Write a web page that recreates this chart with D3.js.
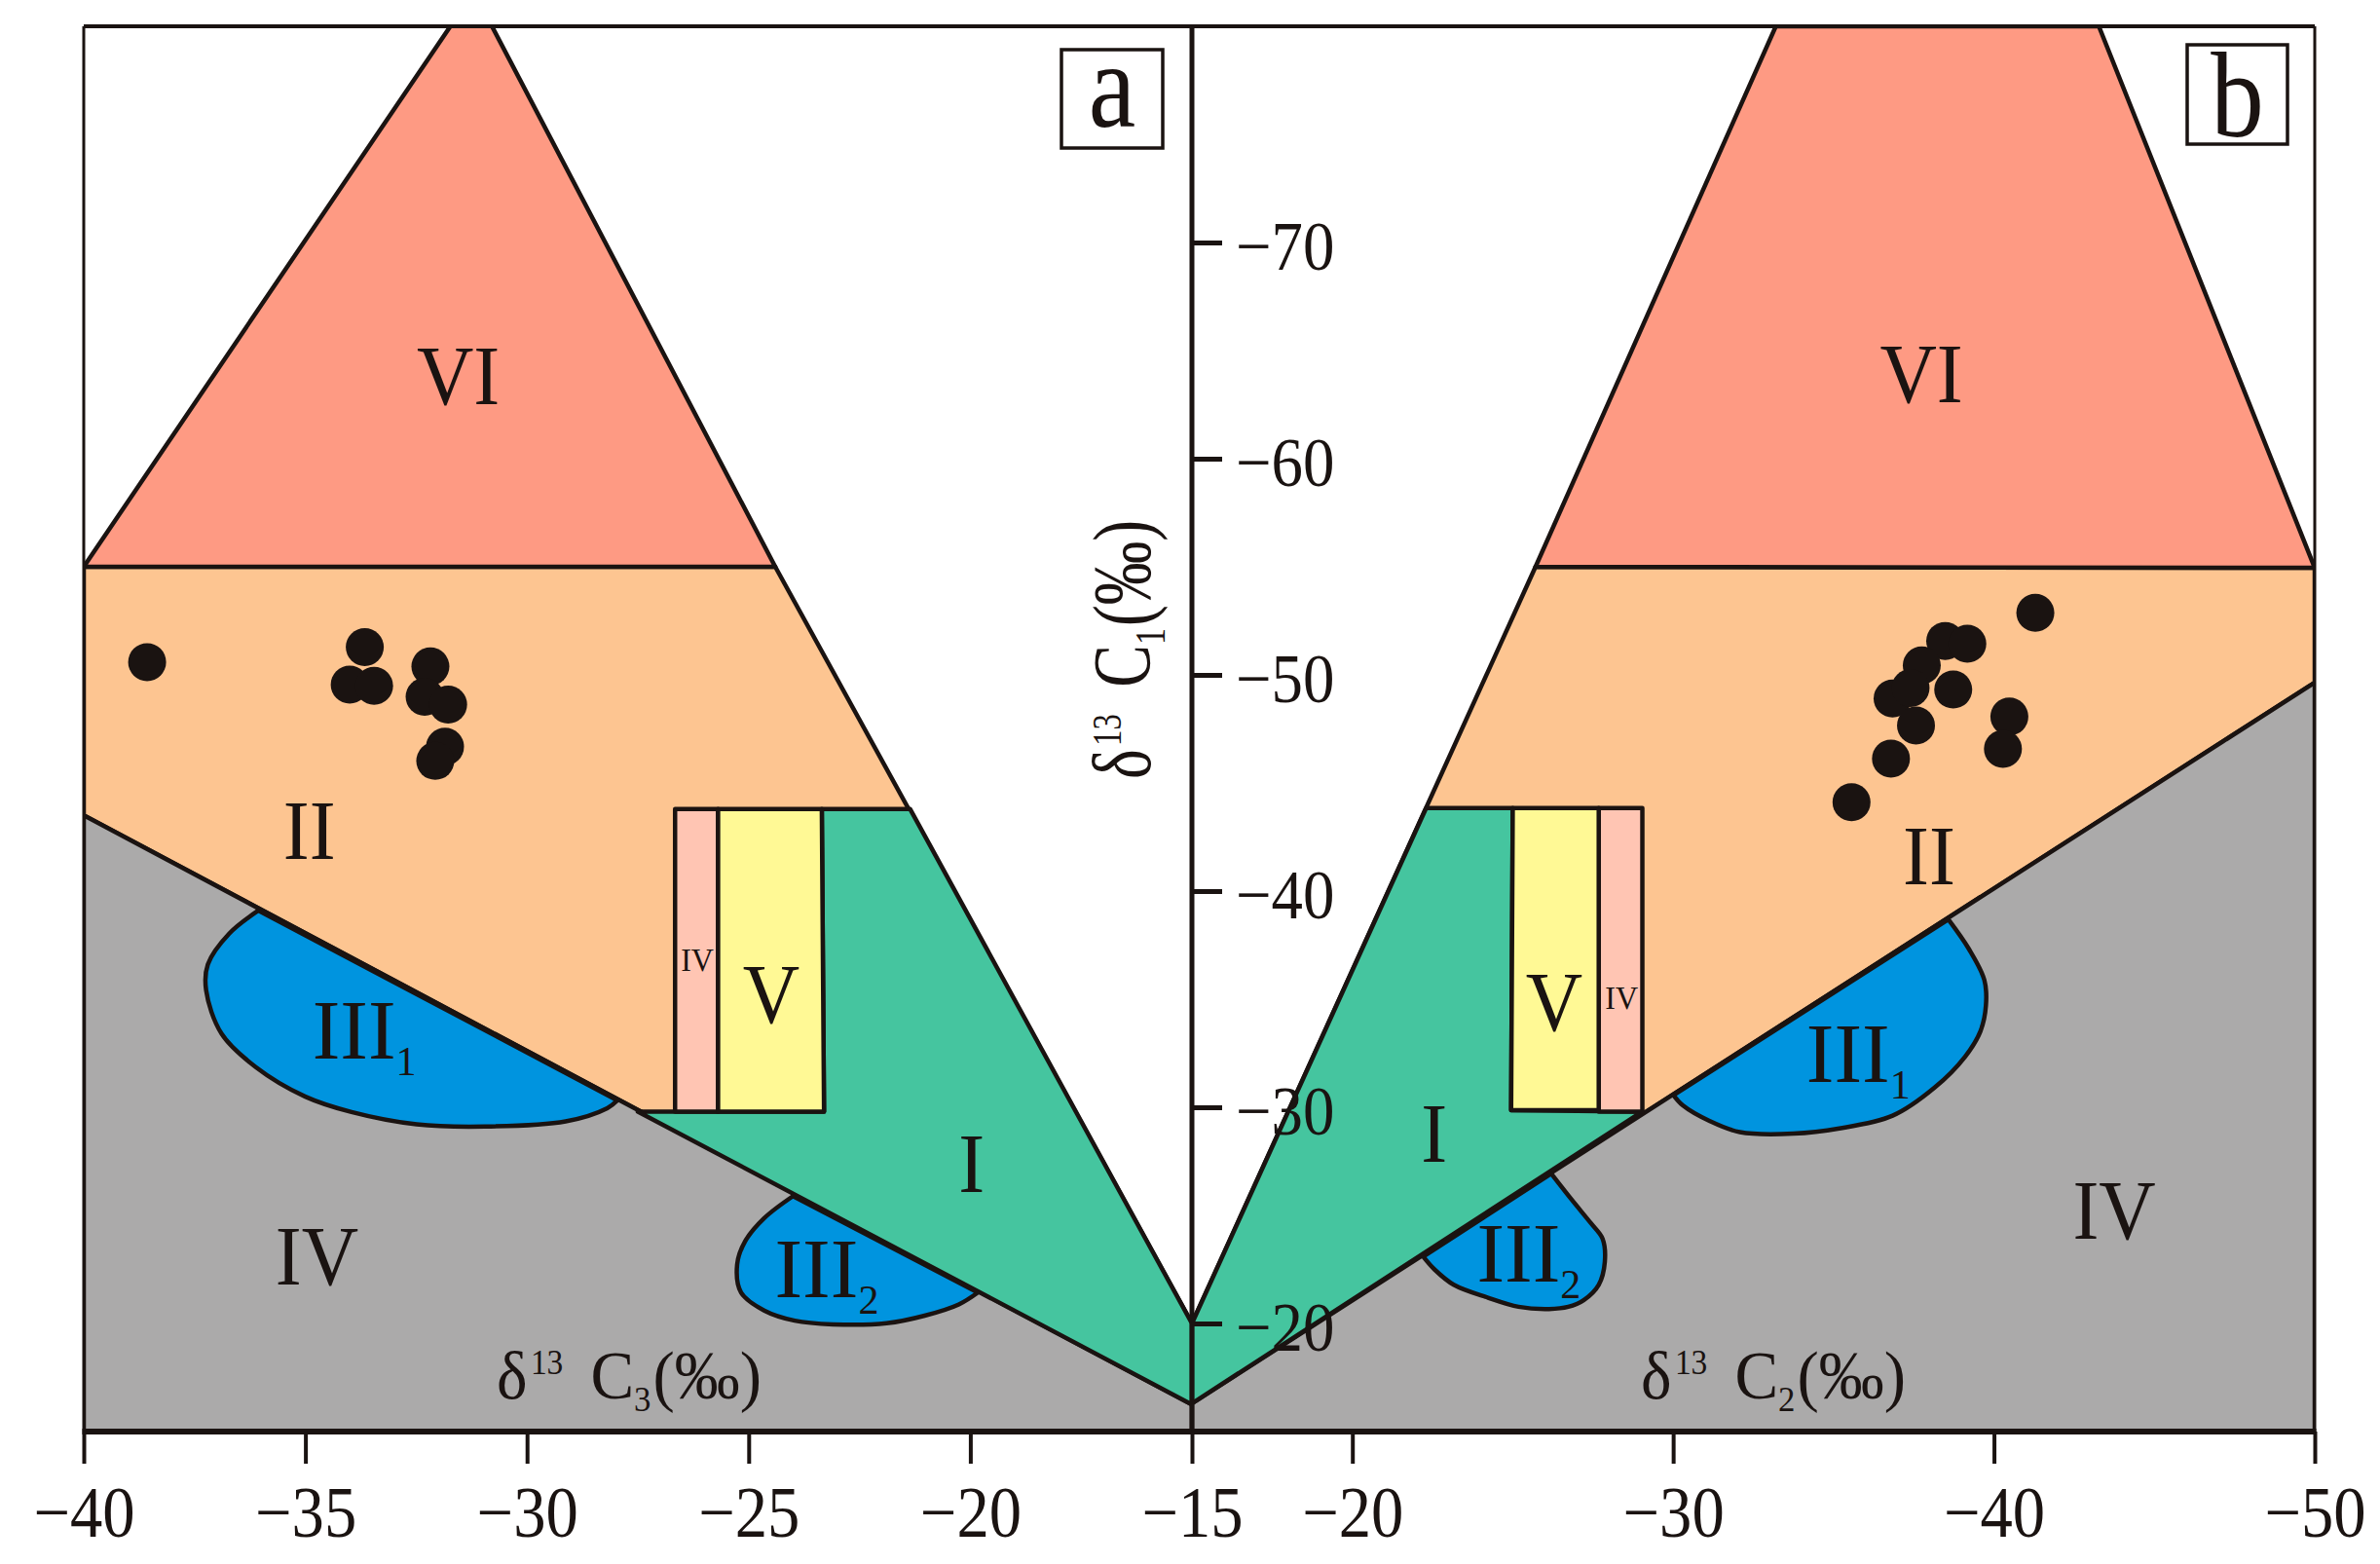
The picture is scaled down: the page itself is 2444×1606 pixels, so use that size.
<!doctype html>
<html>
<head>
<meta charset="utf-8">
<style>
  body { margin: 0; background-color: #fff; }
  text { font-family: "Liberation Serif", "Times New Roman", serif; fill: #1a1311; }
</style>
</head>
<body>
<script src="https://cdn.jsdelivr.net/npm/d3@7"></script>
<script>
  var width = 2444,
      height = 1606;

  // tick values
  var xTicksA = [-40, -35, -30, -25, -20, -15];
  var xTicksB = [-20, -30, -40, -50];
  var yTicks = [-70, -60, -50, -40, -30, -20];

  // panel a : d13C3 (x) vs d13C1 (y)
  var viA = [[-40, -55], [-24.4, -55], [-31.2, -81.6]];
  var iiA = [[-40, -55], [-24.4, -55], [-15, -20], [-15, -16.25], [-40, -43.5]];
  var ivA = [[-40, -43.5], [-15, -16.25], [-15, -15], [-40, -15]];
  var iA = [[-27.5, -29.8], [-23.3, -29.8], [-23.35, -43.8], [-21.36, -43.8], [-15, -20], [-15, -16.25]];
  var ivBoxA = [[-26.66, -43.8], [-25.69, -43.8], [-25.69, -29.8], [-26.66, -29.8]];
  var vBoxA = [[-25.69, -43.8], [-23.35, -43.8], [-23.3, -29.8], [-25.69, -29.8]];
  var iii1A = [[-36.06, -39.1], [-36.72, -38.03], [-37.2, -36.61], [-37.24, -35.42], [-36.89, -33.4],
               [-36.12, -31.86], [-35.0, -30.49], [-33.96, -29.78], [-32.49, -29.21], [-30.95, -29.11],
               [-29.13, -29.35], [-28.19, -29.96], [-27.96, -30.32]];
  var iii2A = [[-24.0, -25.89], [-24.65, -24.87], [-25.08, -23.8], [-25.26, -22.73], [-25.17, -21.43],
               [-24.65, -20.6], [-23.96, -20.13], [-23.1, -19.96], [-21.89, -20.01], [-21.03, -20.36],
               [-20.26, -20.88], [-19.83, -21.43]];
  var samplesA = [[-38.57, -50.59], [-33.66, -51.28], [-34.0, -49.55], [-33.45, -49.49], [-32.18, -50.39],
                  [-32.31, -48.99], [-31.78, -48.63], [-31.85, -46.68], [-32.07, -46.02]];
  var namesA = [
    {t: "VI", x: -31.55, y: -63.8}, {t: "II", x: -34.91, y: -42.76}, {t: "IV", x: -34.74, y: -23.08},
    {t: "III", sub: "1", x: -33.67, y: -33.51}, {t: "V", x: -24.49, y: -35.18},
    {t: "IV", small: true, x: -26.16, y: -36.82}, {t: "I", x: -19.97, y: -27.34},
    {t: "III", sub: "2", x: -23.24, y: -22.48}
  ];

  // panel b : d13C2 (x) vs d13C1 (y)
  var viB = [[-25.71, -55], [-50, -54.95], [-43.27, -80], [-33.2, -80]];
  var iiB = [[-25.71, -55], [-50, -54.95], [-50, -49.65], [-15, -16.3], [-15, -20]];
  var ivB = [[-15, -16.3], [-50, -49.65], [-50, -15], [-15, -15]];
  var iB = [[-22.3, -43.84], [-25.0, -43.84], [-24.95, -29.87], [-29.04, -29.8], [-15, -16.3], [-15, -20]];
  var vBoxB = [[-25.0, -43.84], [-27.68, -43.84], [-27.68, -29.87], [-24.95, -29.87]];
  var ivBoxB = [[-27.68, -43.84], [-29.04, -43.84], [-29.04, -29.8], [-27.68, -29.8]];
  var iii1B = [[-38.58, -38.69], [-39.22, -37.32], [-39.7, -35.89], [-39.75, -34.71], [-39.58, -33.52],
               [-39.1, -32.34], [-38.15, -30.91], [-36.84, -29.61], [-35.18, -29.02], [-33.75, -28.78],
               [-32.08, -28.85], [-31.13, -29.37], [-30.3, -30.09], [-30.01, -30.56]];
  var iii2B = [[-26.2, -26.93], [-26.85, -25.7], [-27.44, -24.63], [-27.8, -23.92], [-27.87, -22.85],
               [-27.68, -21.79], [-27.21, -21.08], [-26.73, -20.77], [-26.13, -20.67], [-25.18, -20.77],
               [-24.23, -21.19], [-23.16, -21.79], [-22.56, -22.5], [-22.21, -23.09]];
  var samplesB = [[-41.29, -52.87], [-38.48, -51.57], [-39.17, -51.44], [-37.75, -50.44], [-36.84, -48.91],
                  [-37.57, -47.66], [-38.73, -49.32], [-40.48, -48.07], [-40.28, -46.58], [-36.79, -46.13],
                  [-35.56, -44.11], [-37.4, -49.39]];
  var namesB = [
    {t: "VI", x: -37.74, y: -63.9}, {t: "II", x: -37.98, y: -41.58}, {t: "IV", x: -43.75, y: -25.2},
    {t: "III", sub: "1", x: -35.77, y: -32.43}, {t: "V", x: -26.29, y: -34.82},
    {t: "IV", small: true, x: -28.39, y: -35.05}, {t: "I", x: -22.55, y: -28.76},
    {t: "III", sub: "2", x: -25.5, y: -23.2}
  ];

  var ink = '#1a1311';
  var colours = {vi: '#fe9a83', ii: '#fdc591', iv: '#abaaaa', i: '#45c59f',
                 iii: '#0094df', v: '#fff995', ivBox: '#ffc5b3'};

  var plotL = 86, plotM = 1224, plotR = 2377, plotT = 27, plotB = 1470;

  var y = d3.scaleLinear().domain([-80, -15]).range([plotT, plotB]);
  var xA = d3.scaleLinear().domain([-40, -15]).range([plotL, plotM]);
  var xB = d3.scaleLinear().domain([-15, -50]).range([plotM, plotR]);

  var svg = d3.select('body').append('svg')
      .attr('width', width)
      .attr('height', height);

  // narrow a plain text the way the original's condensed lettering looks
  var squeeze = function (sel, k) {
    sel.each(function () {
      var w = this.getComputedTextLength();
      d3.select(this).attr('textLength', w * k).attr('lengthAdjust', 'spacingAndGlyphs');
    });
  };

  var defs = svg.append('defs');
  defs.append('clipPath').attr('id', 'clipA').append('rect')
      .attr('x', plotL).attr('y', plotT).attr('width', plotM - plotL).attr('height', plotB - plotT);
  defs.append('clipPath').attr('id', 'clipB').append('rect')
      .attr('x', plotM).attr('y', plotT).attr('width', plotR - plotM).attr('height', plotB - plotT);

  var drawPanel = function (x, clip, p) {
    var g = svg.append('g').attr('clip-path', 'url(#' + clip + ')');
    var poly = d3.line().x(function (d) { return x(d[0]); }).y(function (d) { return y(d[1]); });
    var curve = d3.line().curve(d3.curveCatmullRom.alpha(0.5))
        .x(function (d) { return x(d[0]); }).y(function (d) { return y(d[1]); });

    var fields = [
      [p.ii, colours.ii], [p.vi, colours.vi], [p.iv, colours.iv], [p.i, colours.i],
      [p.ivBox, colours.ivBox], [p.vBox, colours.v]
    ];
    fields.forEach(function (f) {
      g.append('path')
          .attr('d', poly(f[0]) + 'Z')
          .attr('fill', f[1])
          .attr('stroke', ink)
          .attr('stroke-width', 4.5)
          .attr('stroke-linejoin', 'round');
    });

    [p.iii1, p.iii2].forEach(function (blob) {
      g.append('path')
          .attr('d', curve(blob) + 'Z')
          .attr('fill', colours.iii)
          .attr('stroke', ink)
          .attr('stroke-width', 4.5)
          .attr('stroke-linejoin', 'round');
    });

    g.selectAll('circle.sample')
        .data(p.samples)
      .enter().append('circle')
        .attr('class', 'sample')
        .attr('cx', function (d) { return x(d[0]); })
        .attr('cy', function (d) { return y(d[1]); })
        .attr('r', 19.5)
        .attr('fill', ink);

    p.names.forEach(function (d) {
      var t = g.append('text')
          .attr('x', x(d.x))
          .attr('y', y(d.y))
          .attr('text-anchor', 'middle')
          .attr('font-size', d.small ? 34 : 86)
          .attr('dy', '0.33em');
      t.append('tspan').text(d.t);
      if (d.sub) t.append('tspan').attr('font-size', 42).attr('dy', 17).text(d.sub);
      if (!d.sub) squeeze(t, 0.94);
    });
  };

  drawPanel(xA, 'clipA', {ii: iiA, vi: viA, iv: ivA, i: iA, ivBox: ivBoxA, vBox: vBoxA,
                          iii1: iii1A, iii2: iii2A, samples: samplesA, names: namesA});
  drawPanel(xB, 'clipB', {ii: iiB, vi: viB, iv: ivB, i: iB, ivBox: ivBoxB, vBox: vBoxB,
                          iii1: iii1B, iii2: iii2B, samples: samplesB, names: namesB});

  // axis titles; stretched to the length they have in the original
  var title = function (transform, sub, size, len) {
    var g = svg.append('g').attr('transform', transform);
    var t = g.append('text').attr('font-size', size);
    t.append('tspan').text('δ');
    t.append('tspan').attr('font-size', size * 0.5).attr('dy', -size * 0.36).attr('dx', size * 0.05).text('13');
    t.append('tspan').attr('dy', size * 0.36).attr('dx', size * 0.42).text('C');
    t.append('tspan').attr('font-size', size * 0.52).attr('dy', size * 0.18).text(sub);
    t.append('tspan').attr('dy', -size * 0.18).attr('dx', size * 0.03).text('(‰)');
    var w = t.node().getBBox().width;
    t.attr('transform', 'scale(' + (len / w) + ',1)');
  };
  title('translate(510,1436)', '3', 70, 272);
  title('translate(1685,1436)', '2', 70, 272);
  title('translate(1181,800) rotate(-90)', '1', 84, 266);

  // frame
  var frame = svg.append('g').attr('stroke', ink).attr('fill', 'none');
  frame.append('line').attr('x1', plotL).attr('x2', plotR).attr('y1', plotT).attr('y2', plotT).attr('stroke-width', 4);
  frame.append('line').attr('x1', plotL).attr('x2', plotL).attr('y1', plotT).attr('y2', plotB).attr('stroke-width', 3);
  frame.append('line').attr('x1', plotR).attr('x2', plotR).attr('y1', plotT).attr('y2', plotB).attr('stroke-width', 3);
  frame.append('line').attr('x1', plotM).attr('x2', plotM).attr('y1', plotT).attr('y2', plotB).attr('stroke-width', 5);
  frame.append('line').attr('x1', plotL - 1.5).attr('x2', plotR + 1.5).attr('y1', plotB).attr('y2', plotB).attr('stroke-width', 6);

  // bottom axes
  var fmt = function (d) { return String(d).replace('-', '\u2212'); };
  var axisA = d3.axisBottom(xA).tickValues(xTicksA).tickSize(33).tickPadding(22).tickFormat(fmt);
  var axisB = d3.axisBottom(xB).tickValues(xTicksB).tickSize(33).tickPadding(22).tickFormat(fmt);
  [axisA, axisB].forEach(function (ax) {
    var ga = svg.append('g').attr('transform', 'translate(0,' + plotB + ')').call(ax);
    ga.select('.domain').remove();
    ga.selectAll('.tick line').attr('stroke', ink).attr('stroke-width', 4);
    ga.selectAll('.tick text')
        .attr('font-family', '"Liberation Serif", "Times New Roman", serif')
        .attr('font-size', 74)
        .attr('fill', ink)
        .attr('dy', '0.71em')
        .call(squeeze, 0.9);
  });

  // central y axis
  var axisY = d3.axisRight(y).tickValues(yTicks).tickSize(31).tickPadding(14).tickFormat(fmt);
  var gy = svg.append('g').attr('transform', 'translate(' + plotM + ',0)').call(axisY);
  gy.select('.domain').remove();
  gy.selectAll('.tick line').attr('stroke', ink).attr('stroke-width', 5);
  gy.selectAll('.tick text')
      .attr('font-family', '"Liberation Serif", "Times New Roman", serif')
      .attr('font-size', 72)
      .attr('fill', ink)
      .attr('dy', 27)
      .call(squeeze, 0.9);

  // panel letters
  var tag = function (bx, by, bw, bh, letter, base) {
    svg.append('rect').attr('x', bx).attr('y', by).attr('width', bw).attr('height', bh)
        .attr('fill', '#fff').attr('stroke', ink).attr('stroke-width', 3.5);
    svg.append('text').attr('x', bx + bw / 2).attr('y', base)
        .attr('text-anchor', 'middle').attr('font-size', 124).text(letter)
        .call(squeeze, 0.88);
  };
  tag(1090, 51, 104, 101, 'a', 130);
  tag(2246, 46, 103, 102, 'b', 140);
</script>
</body>
</html>
